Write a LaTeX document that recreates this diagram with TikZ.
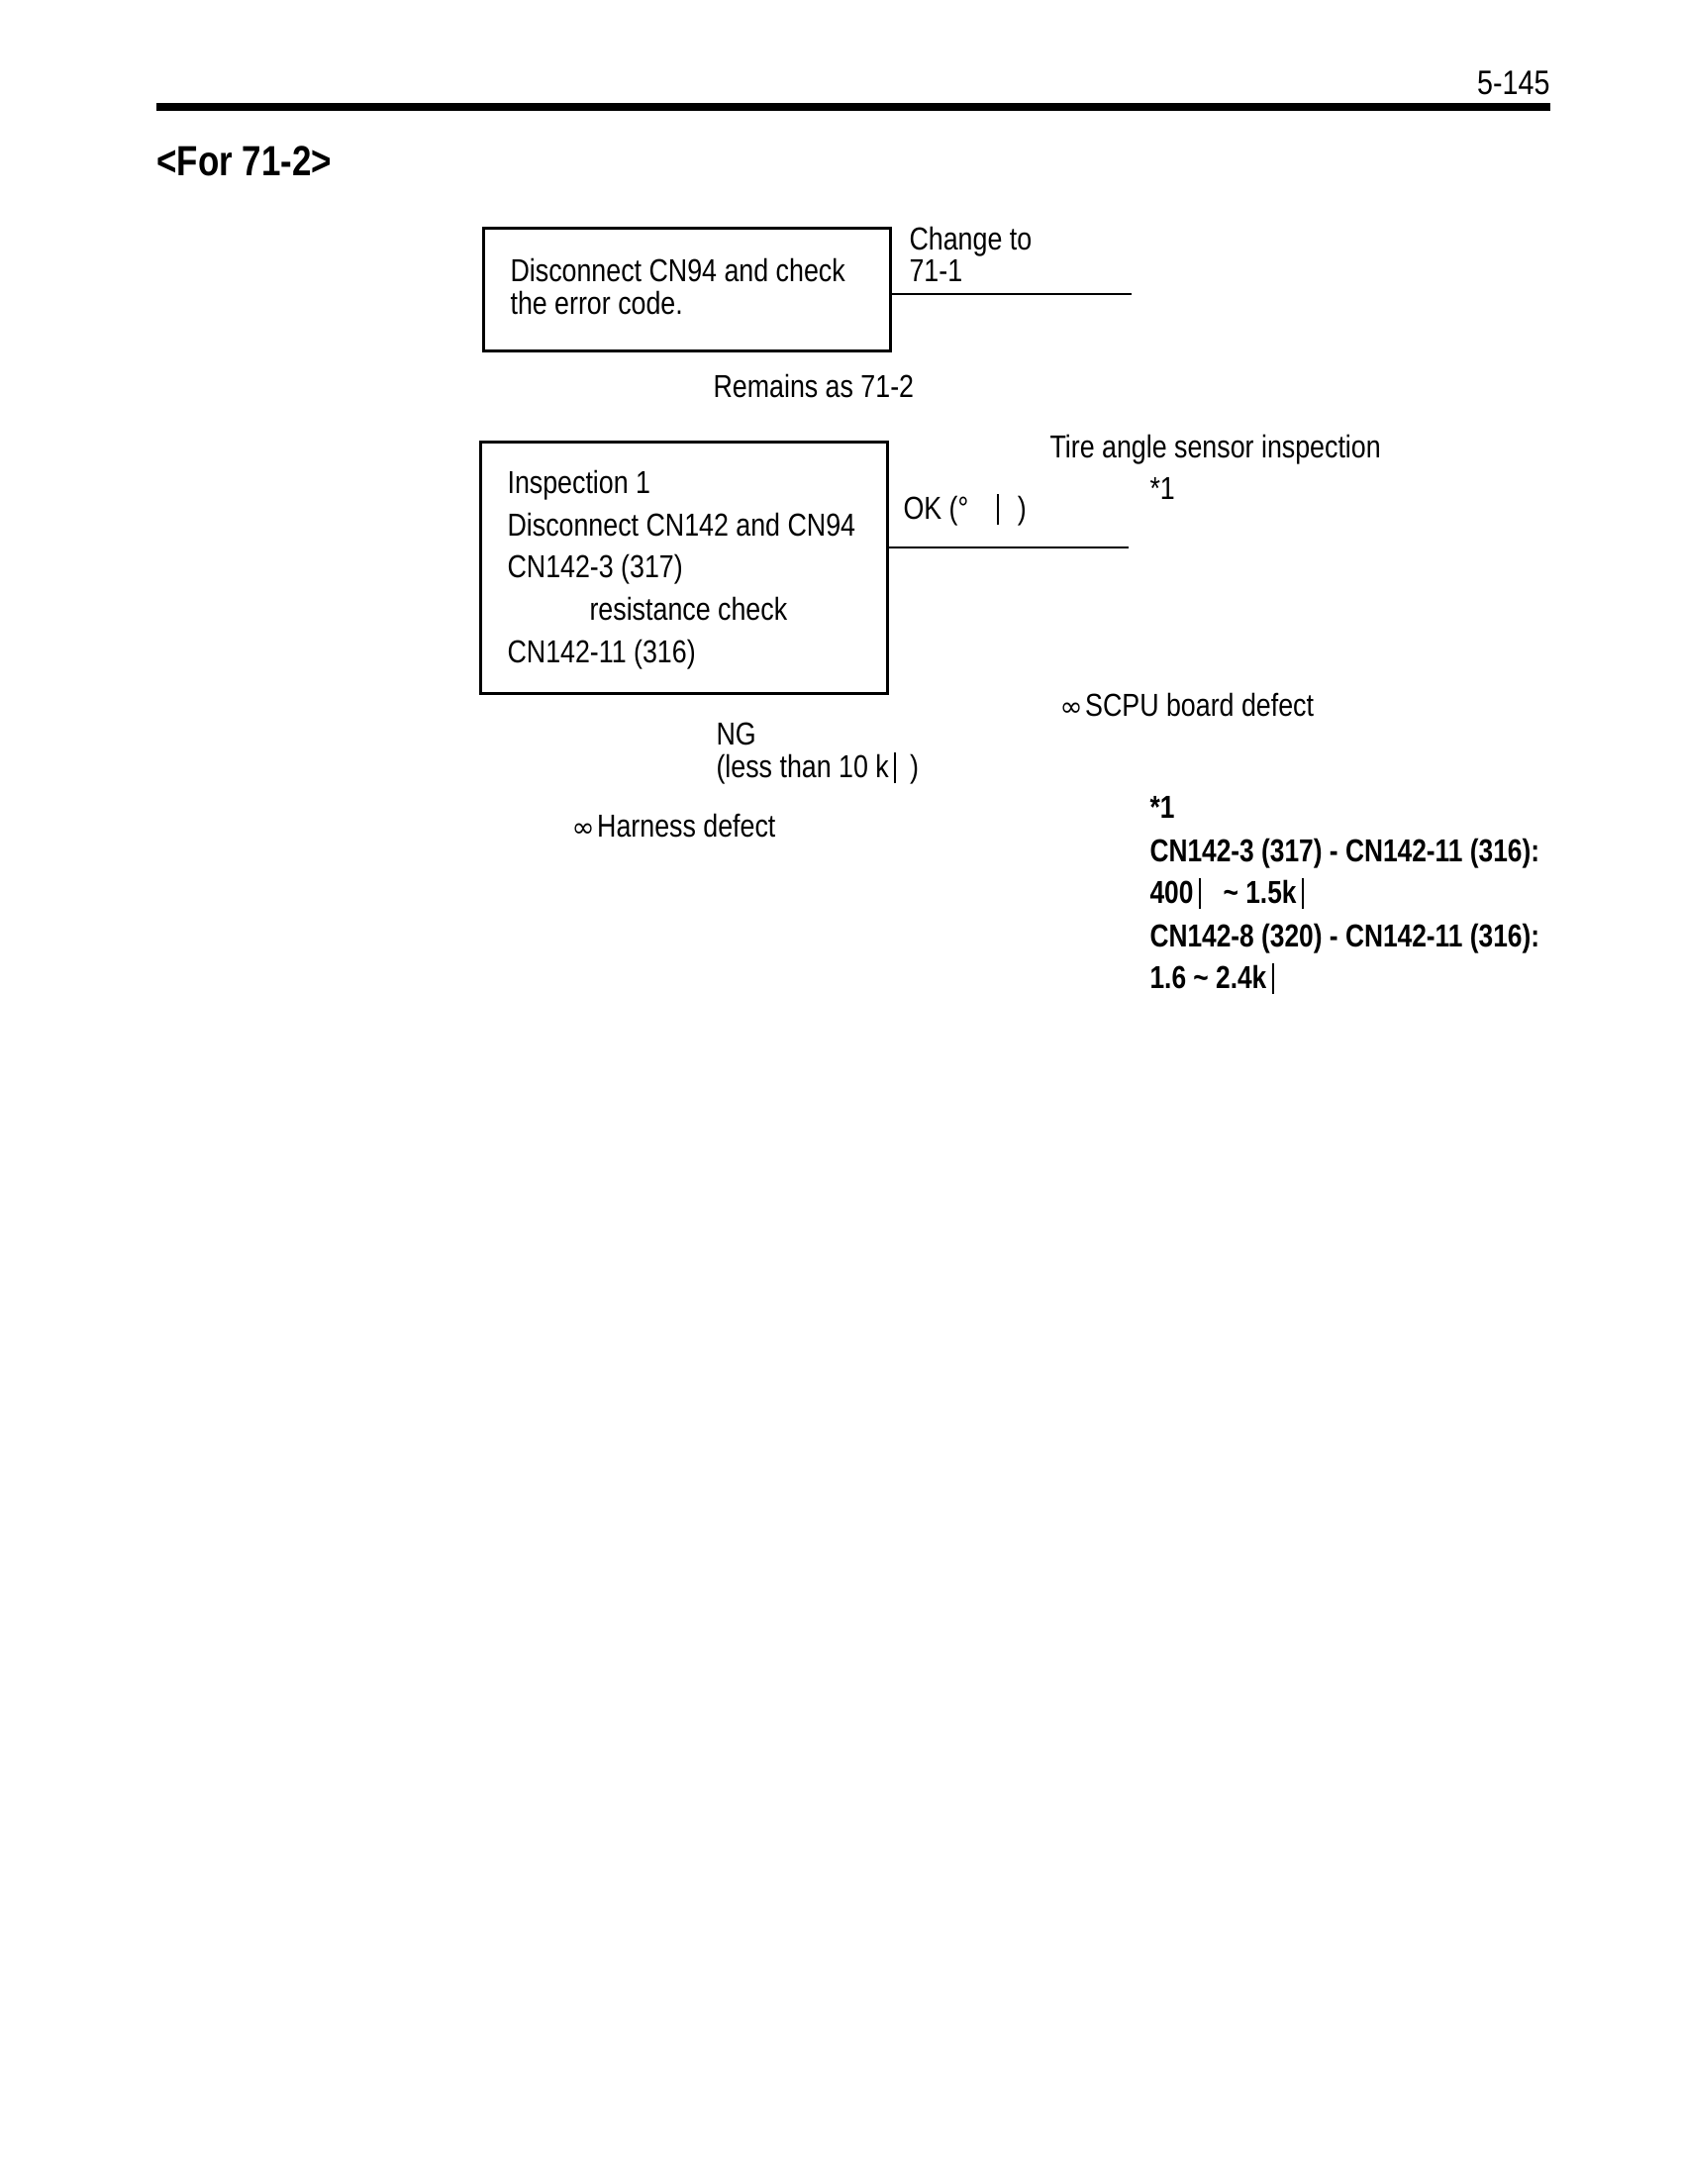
\documentclass[tikz,border=0pt]{standalone}
\usepackage{fontspec}
\setmainfont[FakeStretch=0.835,BoldFeatures={FakeStretch=0.82}]{Liberation Sans}
\newfontfamily\symfont{DejaVu Sans}
\newcommand{\ohmbar}{\rule[-0.18em]{0.5pt}{0.98em}}
\newcommand{\ohmbarb}{\rule[-0.18em]{0.85pt}{0.98em}}
\newcommand{\infsym}{{\symfont\fontsize{10}{12}\selectfont ∞}}
\begin{document}
\begin{tikzpicture}[x=0.127mm,y=-0.127mm,
  txt/.style={inner sep=0pt,anchor=mid west,font=\fontsize{11.6}{14}\selectfont},
  btxt/.style={inner sep=0pt,anchor=mid west,font=\fontsize{11.6}{14}\selectfont\bfseries},
  stepbox/.style={draw,line width=1.1pt,inner sep=0pt,anchor=north west},
  link/.style={line width=0.6pt}]
\useasboundingbox (0,0) rectangle (1700,2206);
% page header
\node[inner sep=0pt,anchor=mid east,font=\fontsize{12.4}{14}\selectfont] (pg) at (1566,88) {5-145};
\draw[line width=2.6pt] (158,108) coordinate (rl) -- (1566,108) coordinate (rr);
\node[inner sep=0pt,anchor=mid west,font=\fontsize{15.4}{18}\selectfont\bfseries] (ttl) at (158,170) {<For 71-2>};
% first step
\node[stepbox,minimum width=52.2mm,minimum height=15.75mm] (b1) at (487,229) {};
\coordinate (b1e) at (898,297);
\node[txt] (b1t1) at (515,277) {Disconnect CN94 and check};
\node[txt] (b1t2) at (515,310) {the error code.};
\node[txt] (chg1) at (918,245) {Change to};
\node[txt] (chg2) at (918,277) {71-1};
\coordinate (e1) at (1143,297);
\draw[link] (b1e) -- (e1);
\node[txt] (rem) at (720,394) {Remains as 71-2};
% inspection 1
\node[stepbox,minimum width=52.2mm,minimum height=32.26mm] (b2) at (484,445) {};
\coordinate (b2e) at (895,553);
\node[txt] (i1) at (512,491) {Inspection 1};
\node[txt] (i2) at (512,534) {Disconnect CN142 and CN94};
\node[txt] (i3) at (512,576) {CN142-3 (317)};
\node[txt] (i4) at (595,619) {resistance check};
\node[txt] (i5) at (512,662) {CN142-11 (316)};
\node[txt] (ok) at (912,517) {OK (\textdegree\hspace{0.9em}\ohmbar\hspace{0.6em})};
\coordinate (e2) at (1140,553);
\draw[link] (b2e) -- (e2);
\node[txt] (tas) at (1060,455) {Tire angle sensor inspection};
\node[txt] (ref) at (1161,497) {*1};
\node[txt] (scpu) at (1070,716) {\infsym\hspace{0.08em}SCPU board defect};
\node[txt] (ng1) at (723,745) {NG};
\node[txt] (ng2) at (723,778) {(less than 10 k\,\ohmbar\hspace{0.45em})};
\node[txt] (harn) at (577,838) {\infsym\hspace{0.08em}Harness defect};
% footnote
\node[btxt] (n0) at (1161,819) {*1};
\node[btxt] (n1) at (1161,863) {CN142-3 (317) - CN142-11 (316):};
\node[btxt] (n2) at (1161,905) {400\,\ohmbarb\hspace{0.7em}\char`\~\ 1.5k\,\ohmbarb};
\node[btxt] (n3) at (1161,949) {CN142-8 (320) - CN142-11 (316):};
\node[btxt] (n4) at (1161,991) {1.6 \char`\~\ 2.4k\,\ohmbarb};
\end{tikzpicture}
\end{document}
